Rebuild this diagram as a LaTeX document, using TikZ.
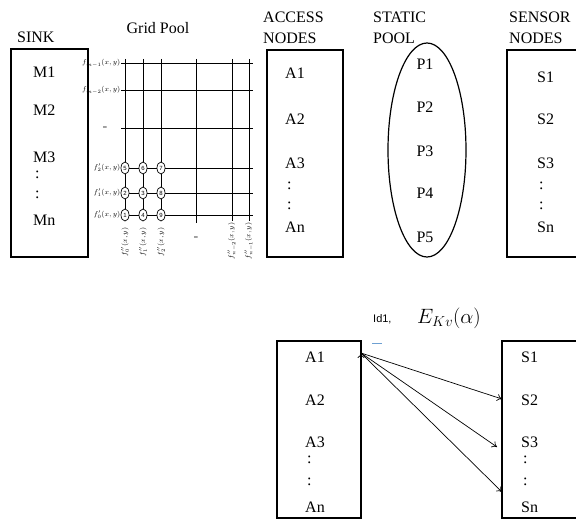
\documentclass[tikz,border=0pt]{standalone}
\usepackage{amsmath}
\usepackage{fontspec}
\setmainfont{Liberation Serif}
\newfontfamily\gridfont{Liberation Sans}
\usetikzlibrary{arrows,arrows.meta,shapes.geometric}
\definecolor{markblue}{RGB}{110,160,210}
\tikzset{
	>={To[length=5pt,width=7pt]},
	box/.style={draw, line width=1.2pt, minimum width=#1, inner sep=0pt},
	txt/.style={anchor=west, inner sep=0pt, font=\fontsize{16}{21}\selectfont},
	head/.style={txt, align=left},
	flab/.style={inner sep=0.5pt, font=\fontsize{7.5}{8}\selectfont},
	cell/.style={draw, ellipse, fill=white, line width=0.7pt, inner sep=0pt,
		minimum width=8pt, minimum height=12pt, font=\gridfont\fontsize{6}{6}\selectfont},
}

\begin{document}
\begin{tikzpicture}[x=1pt,y=-1pt]
	\useasboundingbox (0,0) rectangle (576,519);
	\clip (0,0) rectangle (576,519);
	%
	\node[head] (hsink) at (17,37) {SINK};
	\node[txt, anchor=center] (hgrid) at (158,28) {Grid Pool};
	\node[head] (hacc) at (263,28) {ACCESS\\NODES};
	\node[head] (hpool) at (373,28) {STATIC\\POOL};
	\node[head] (hsens) at (509,28) {SENSOR\\NODES};
	%
	\node[box=77pt, minimum height=208pt] (sink) at (49.5,153) {};
	\node[box=76pt, minimum height=207pt] (acc) at (305,153.5) {};
	\node[box=73pt, minimum height=207pt] (sens) at (543.5,153.5) {};
	\node[draw, ellipse, line width=1.2pt, minimum width=78pt, minimum height=214pt] (pool) at (427,150) {};
	%
	\node[txt] (m1) at (33,72) {M1};
	\node[txt] (m2) at (33,110) {M2};
	\node[txt] (m3) at (33,157) {M3};
	\node[txt] (md1) at (35,175) {:};
	\node[txt] (md2) at (35,195) {:};
	\node[txt] (mn) at (33,220) {Mn};
	%
	\node[txt] (a1) at (285,73) {A1};
	\node[txt] (a2) at (285,119) {A2};
	\node[txt] (a3) at (285,163) {A3};
	\node[txt] (ad1) at (287,186) {:};
	\node[txt] (ad2) at (287,206) {:};
	\node[txt] (an) at (285,227) {An};
	%
	\node[txt, anchor=center] (p1) at (425,64) {P1};
	\node[txt, anchor=center] (p2) at (425,107) {P2};
	\node[txt, anchor=center] (p3) at (425,151) {P3};
	\node[txt, anchor=center] (p4) at (425,193) {P4};
	\node[txt, anchor=center] (p5) at (425,237) {P5};
	%
	\node[txt] (s1) at (537,77) {S1};
	\node[txt] (s2) at (537,119) {S2};
	\node[txt] (s3) at (537,163) {S3};
	\node[txt] (sd1) at (539,186) {:};
	\node[txt] (sd2) at (539,206) {:};
	\node[txt] (sn) at (537,227) {Sn};
	%
	% grid pool
	\foreach \y in {63,90,128,168,193,215}
		\draw[line width=0.7pt] (121,\y) -- (253,\y);
	\foreach \x in {125,143,161,232,249}
		\draw[line width=0.7pt] (\x,59) -- (\x,221);
	\draw[line width=0.7pt] (196,59) -- (196,223);
	%
	\node[flab, anchor=east] (r6) at (121,63) {$f'_{m-1}(x,y)$};
	\node[flab, anchor=east] (r5) at (121,90) {$f'_{m-2}(x,y)$};
	\node[flab] (r4) at (105,128) {\gridfont\bfseries\textendash};
	\node[flab, anchor=east] (r3) at (121,168) {$f'_{2}(x,y)$};
	\node[flab, anchor=east] (r2) at (121,193) {$f'_{1}(x,y)$};
	\node[flab, anchor=east] (r1) at (121,215) {$f'_{0}(x,y)$};
	%
	\node[flab, rotate=90, anchor=east] (k1) at (125,227) {$f''_{0}(x,y)$};
	\node[flab, rotate=90, anchor=east] (k2) at (143,227) {$f''_{1}(x,y)$};
	\node[flab, rotate=90, anchor=east] (k3) at (161,227) {$f''_{2}(x,y)$};
	\node[flab] (k4) at (196,238) {\gridfont\bfseries\textendash};
	\node[flab, rotate=90, anchor=east] (k5) at (232,222) {$f''_{n-2}(x,y)$};
	\node[flab, rotate=90, anchor=east] (k6) at (249,222) {$f''_{n-1}(x,y)$};
	%
	\node[cell] (c5) at (125,168) {5};
	\node[cell] (c6) at (143,168) {6};
	\node[cell] (c7) at (161,168) {7};
	\node[cell] (c2) at (125,193) {2};
	\node[cell] (c3) at (143,193) {3};
	\node[cell] (c8) at (161,193) {8};
	\node[cell] (c1) at (125,215) {1};
	\node[cell] (c4) at (143,215) {4};
	\node[cell] (c9) at (161,215) {9};
	%
	% lower part
	\node[anchor=west, inner sep=0pt, font=\gridfont\fontsize{11}{12}\selectfont] (id) at (373,319) {Id1,};
	\node[anchor=west, inner sep=0pt, font=\fontsize{20}{22}\selectfont] (ekv) at (417,318) {$E_{Kv}(\alpha)$};
	\coordinate (mk1) at (372,343);
	\coordinate (mk2) at (382,343);
	\draw[markblue, line width=0.8pt] (mk1) -- (mk2);
	%
	\node[box=84pt, minimum height=177pt] (accb) at (319,429.5) {};
	\node[box=78pt, minimum height=177pt] (sensb) at (541,429.5) {};
	%
	\node[txt] (b1) at (305,357) {A1};
	\node[txt] (b2) at (305,400) {A2};
	\node[txt] (b3) at (305,442) {A3};
	\node[txt] (bd1) at (307,460) {:};
	\node[txt] (bd2) at (307,482) {:};
	\node[txt] (bn) at (305,507) {An};
	%
	\node[txt] (t1) at (521,357) {S1};
	\node[txt] (t2) at (521,400) {S2};
	\node[txt] (t3) at (521,442) {S3};
	\node[txt] (td1) at (523,460) {:};
	\node[txt] (td2) at (523,482) {:};
	\node[txt] (tn) at (521,507) {Sn};
	%
	\coordinate (src) at (361,353);
	\coordinate (e1) at (502,399);
	\coordinate (e2) at (497,447);
	\coordinate (e3) at (502,492);
	\draw [->, line width=0.7pt] (src) edge (e1) edge (e2) edge (e3);
\end{tikzpicture}
\end{document}
